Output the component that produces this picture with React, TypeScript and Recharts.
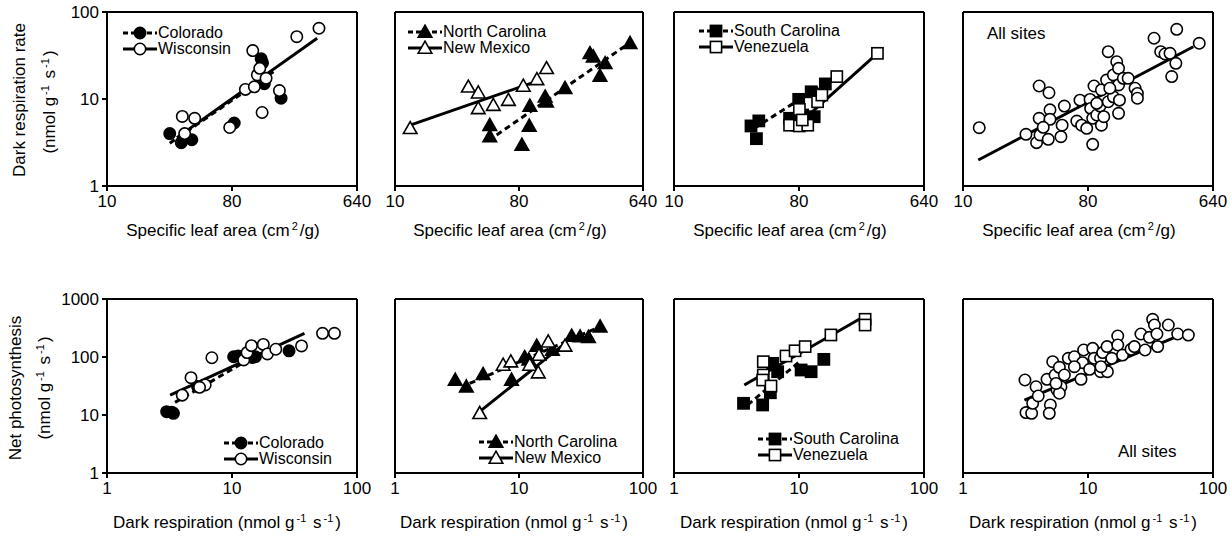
import React from 'react';
import { ScatterChart, Scatter, XAxis, YAxis, Legend } from 'recharts';

type Pt = [number, number];
type Mark = 'circle' | 'triangle' | 'square';

const FONT = '"Liberation Sans", Arial, Helvetica, sans-serif';

// axis ranges and ticks
const slaDomain: [number, number] = [10, 640];
const slaTicks = [10, 80, 640];
const rdDomain: [number, number] = [1, 100];
const rdTicks = [1, 10, 100];
const anDomain: [number, number] = [1, 1000];
const anTicks = [1, 10, 100, 1000];

// top row: specific leaf area (x) vs dark respiration (y)
const coloradoSla: Pt[] = [[28.4, 4.0], [34.4, 3.15], [41, 3.4], [83, 5.3], [130, 29], [133, 26], [137, 15], [181, 10.2]];
const wisconsinSla: Pt[] = [[35, 6.3], [43, 6.0], [36.4, 4.0], [77, 4.7], [100, 12.9], [113, 36], [116, 13.8], [122, 18.9], [127, 22.5], [141, 17.3], [132, 7.0], [176, 12.5], [235, 52], [340, 65]];
const coloradoSlaFit: Pt[] = [[28.4, 3.1], [166, 21.5]];
const wisconsinSlaFit: Pt[] = [[32, 3.6], [330, 50]];

const carolinaNSla: Pt[] = [[49, 5.0], [49, 3.7], [84, 2.96], [95, 4.9], [96, 8.3], [124, 10.6], [127, 9.3], [173, 13.3], [263, 33.5], [278, 30.6], [339, 25.7], [311, 18.4], [515, 43.7]];
const mexicoSla: Pt[] = [[12.9, 4.6], [34.2, 13.8], [40.4, 11.8], [40.4, 7.8], [52, 8.5], [67, 9.7], [86, 14.1], [108, 16.8], [127, 22.5]];
const carolinaNSlaFit: Pt[] = [[55, 3.86], [487, 41.8]];
const mexicoSlaFit: Pt[] = [[12.9, 5.0], [114, 16.5]];

const carolinaSSla: Pt[] = [[36, 4.9], [41, 5.6], [39.4, 3.5], [68.4, 6.0], [79.6, 9.9], [98, 12.1], [124, 14.9], [85, 6.55], [103, 6.26]];
const venezuelaSla: Pt[] = [[68.4, 5.0], [80.5, 4.9], [92.5, 5.0], [80.5, 7.6], [84.5, 5.74], [109, 9.3], [117, 11.1], [150, 18.1], [295, 33.5]];
const carolinaSSlaFit: Pt[] = [[38, 4.6], [130, 16]];
const venezuelaSlaFit: Pt[] = [[70, 4.3], [295, 33.5]];

const allSla: Pt[] = [
  [13.1, 4.68], [28.5, 3.93], [34, 3.15], [36, 3.86], [35.5, 14.1], [41.8, 11.8], [42.5, 7.5], [35.5, 6.0],
  [42.5, 5.84], [38, 4.73], [41.3, 3.44], [51, 3.69], [52, 5.0], [54, 8.3], [66.4, 5.58], [70, 9.7],
  [72, 5.0], [78.3, 4.6], [82.8, 9.9], [83.6, 7.8], [86.5, 3.01], [88.4, 14.1], [86.5, 6.0], [92.5, 6.55],
  [100, 12.7], [97.8, 8.3], [100, 5.0], [104, 6.26], [109, 16.5], [112, 35], [112, 9.3], [122, 18.9],
  [122, 10.6], [129, 26.8], [133, 22.5], [133, 14.5], [135, 9.7], [133, 6.85], [144, 17.3], [156, 17.3],
  [175, 13.3], [182, 11.6], [182, 10.2], [240, 49.9], [268, 35], [288, 32.9], [313, 33.5], [350, 63.2],
  [345, 25.7], [322, 18.1], [509, 43.7], [115, 13.3], [92.5, 8.9],
];
const allSlaFit: Pt[] = [[12.9, 1.99], [461, 39.9]];

// bottom row: dark respiration (x) vs net photosynthesis (y)
const coloradoRd: Pt[] = [[3.0, 11.4], [3.4, 10.7], [3.3, 11.2], [5.3, 31], [10.3, 101], [11.2, 104], [14.5, 98], [15.4, 101], [28.6, 128]];
const wisconsinRd: Pt[] = [[4.0, 22], [4.7, 44], [6.1, 33], [5.5, 30], [6.9, 97], [12.4, 89], [13.2, 119], [14.3, 157], [17.8, 165], [19.2, 113], [22.4, 136], [36, 155], [53, 256], [66, 256]];
const coloradoRdFit: Pt[] = [[3.5, 16.5], [16, 110]];
const wisconsinRdFit: Pt[] = [[3.2, 22], [38, 256]];

const carolinaNRd: Pt[] = [[3.06, 40.1], [3.76, 30.7], [5.13, 50.3], [8.7, 40.1], [11.1, 98.8], [12, 90], [13.9, 155], [18.6, 132], [26.6, 230], [31.1, 225], [36.3, 220], [45.1, 333]];
const mexicoRd: Pt[] = [[4.82, 10.7], [7.45, 72.8], [8.59, 83], [12.2, 72.8], [14.3, 53.6], [14.5, 108], [17.2, 183], [23.5, 155]];
const carolinaNRdFit: Pt[] = [[4, 35], [45, 333]];
const mexicoRdFit: Pt[] = [[4.82, 11.4], [23.5, 172]];

const carolinaSRd: Pt[] = [[3.6, 15.9], [5.12, 14.9], [5.9, 24.2], [6.75, 55.8], [6.15, 77.7], [10.4, 59.7], [12.5, 55.8], [15.8, 91]];
const venezuelaRd: Pt[] = [[5.18, 83], [5.18, 48.9], [5.12, 40.1], [5.97, 31.6], [7.87, 104], [9.3, 128], [11.2, 151], [18.0, 240], [33.8, 447], [33.8, 356]];
const carolinaSRdFit: Pt[] = [[3.88, 14.9], [10.1, 83]];
const venezuelaRdFit: Pt[] = [[3.65, 32.9], [31.3, 465]];

const allRd: Pt[] = [
  [3.13, 40.1], [3.19, 11.0], [3.54, 10.7], [3.61, 15.9], [3.84, 30.7], [4.0, 21.3], [4.7, 41.2], [5.0, 14.9],
  [4.9, 10.7], [5.22, 83], [5.45, 48.9], [5.65, 27], [5.9, 66.4], [6.08, 30.7], [6.47, 48.9], [5.9, 23.7],
  [6.96, 95], [7.78, 101], [8.79, 41.2], [9.23, 132], [9.05, 79.8], [10.3, 61.4], [10.9, 141], [11.2, 95],
  [12.6, 95], [12.6, 55.8], [13.1, 119], [14.2, 151], [14.3, 55.8], [15.5, 95], [17.3, 230], [17.3, 161],
  [18.9, 108], [22.1, 136], [23.5, 151], [26.5, 249], [28.6, 132], [31, 218], [32.9, 447], [34, 356],
  [35.6, 249], [36.1, 151], [43.9, 356], [52.2, 249], [63.5, 239], [12.7, 68], [7.78, 68], [5.55, 35],
];
const allRdFit: Pt[] = [[3.1, 18.1], [59, 256]];

type Series = { data: Pt[]; mark: Mark; filled: boolean };
type Fit = { data: Pt[]; dashed: boolean };
type Key = { name: string; mark: Mark; filled: boolean; dashed: boolean };

const toRows = (pts: Pt[]) => pts.map(([x, y]) => ({ x, y }));

const drawMark = (mark: Mark, filled: boolean, cx: number, cy: number) => {
  const fill = filled ? '#000' : '#fff';
  if (mark === 'circle') return <circle cx={cx} cy={cy} r={5.7} fill={fill} stroke="#000" strokeWidth={1.6} />;
  if (mark === 'square') return <rect x={cx - 5.6} y={cy - 5.6} width={11.2} height={11.2} fill={fill} stroke="#000" strokeWidth={1.6} />;
  return <path d={`M${cx},${cy - 6.8}L${cx + 6.8},${cy + 5.2}L${cx - 6.8},${cy + 5.2}Z`} fill={fill} stroke="#000" strokeWidth={1.6} />;
};

const KeyBox = ({ keys, note }: { keys: Key[]; note?: string }) => (
  <div style={{ fontFamily: FONT, fontSize: 16, color: '#000', whiteSpace: 'nowrap' }}>
    {note && <div style={{ lineHeight: '18px', fontSize: 17 }}>{note}</div>}
    {keys.map((k) => (
      <div key={k.name} style={{ display: 'flex', alignItems: 'center', height: 16 }}>
        <svg width={36} height={16} style={{ display: 'block' }}>
          <line x1={1} x2={35} y1={8} y2={8} stroke="#000" strokeWidth={3} strokeDasharray={k.dashed ? '5 3' : undefined} />
          {drawMark(k.mark, k.filled, 18, 8)}
        </svg>
        <span style={{ lineHeight: '16px' }}>{k.name}</span>
      </div>
    ))}
  </div>
);

const L = 62;
const R = 26;
const T = 8;
const B = 34;
const tickStyle = { fill: '#000', fontSize: 17, fontFamily: FONT };
const ink = { stroke: '#000', strokeWidth: 2 };

type PanelProps = {
  left: number; top: number; w: number; h: number;
  xDomain: [number, number]; xTicks: number[];
  yDomain: [number, number]; yTicks: number[]; yLabels: boolean;
  series: Series[]; fits: Fit[]; keys: Key[]; keyAt: [number, number]; note?: string;
};

const Panel = (p: PanelProps) => {
  const cl = p.left - L;
  const ct = p.top - T;
  return (
    <div style={{ position: 'absolute', left: cl, top: ct }}>
      <ScatterChart width={p.w + L + R} height={p.h + T + B} margin={{ top: 0, right: 0, bottom: 0, left: 0 }}>
        <XAxis xAxisId="b" dataKey="x" type="number" scale="log" domain={p.xDomain} ticks={p.xTicks} interval={0}
          allowDataOverflow height={B} tickSize={5} tickMargin={4} axisLine={ink} tickLine={ink} tick={tickStyle} />
        <XAxis xAxisId="t" orientation="top" type="number" scale="log" domain={p.xDomain} ticks={p.xTicks} interval={0}
          allowDataOverflow height={T} tickSize={5} axisLine={ink} tickLine={ink} tick={false} />
        <YAxis yAxisId="l" dataKey="y" type="number" scale="log" domain={p.yDomain} ticks={p.yTicks} interval={0}
          allowDataOverflow width={L} tickSize={5} tickMargin={3} axisLine={ink} tickLine={ink} tick={p.yLabels ? tickStyle : false} />
        <YAxis yAxisId="r" orientation="right" type="number" scale="log" domain={p.yDomain} ticks={p.yTicks} interval={0}
          allowDataOverflow width={R} tickSize={5} axisLine={ink} tickLine={ink} tick={false} />
        {p.fits.map((f, i) => (
          <Scatter key={`f${i}`} xAxisId="b" yAxisId="l" data={toRows(f.data)} isAnimationActive={false}
            line={{ stroke: '#000', strokeWidth: 3, strokeDasharray: f.dashed ? '6 4' : undefined }}
            shape={() => <g />} />
        ))}
        {p.series.map((s, i) => (
          <Scatter key={`s${i}`} xAxisId="b" yAxisId="l" data={toRows(s.data)} isAnimationActive={false}
            shape={(sp: any) => drawMark(s.mark, s.filled, sp.cx, sp.cy)} />
        ))}
        <Legend layout="vertical" align="center" verticalAlign="middle"
          wrapperStyle={{ left: p.keyAt[0] - cl, top: p.keyAt[1] - ct, width: 'auto', height: 'auto' }}
          content={() => <KeyBox keys={p.keys} note={p.note} />} />
      </ScatterChart>
    </div>
  );
};

const Sup = ({ children }: { children: React.ReactNode }) => (
  <sup style={{ fontSize: 11, lineHeight: 0, verticalAlign: '0.55em', marginLeft: 2, marginRight: 2 }}>{children}</sup>
);

const XTitle = ({ cx, cy, children }: { cx: number; cy: number; children: React.ReactNode }) => (
  <div style={{ position: 'absolute', left: cx - 160, top: cy - 10, width: 320, height: 20, lineHeight: '20px', textAlign: 'center', fontFamily: FONT, fontSize: 17, color: '#000', whiteSpace: 'nowrap' }}>
    {children}
  </div>
);

const YTitle = ({ cx, cy, children }: { cx: number; cy: number; children: React.ReactNode }) => (
  <div style={{ position: 'absolute', left: cx - 110, top: cy - 10, width: 220, height: 20, lineHeight: '20px', textAlign: 'center', fontFamily: FONT, fontSize: 17, color: '#000', whiteSpace: 'nowrap', transform: 'rotate(-90deg)' }}>
    {children}
  </div>
);

const lefts = [107, 395, 674, 963];
const widths = [250, 248, 250, 250];
const topRow = 12;
const bottomRow = 299;
const plotH = 174;

export default function App() {
  const slaTitle = <>Specific leaf area (cm<Sup>2</Sup>/g)</>;
  const rdTitle = <>Dark respiration (nmol g<Sup>-1</Sup> s<Sup>-1</Sup>)</>;
  const common = { h: plotH };
  return (
    <div style={{ position: 'absolute', left: 0, top: 0, width: 1232, height: 540, background: '#fff', overflow: 'hidden' }}>
      {/* top row */}
      <Panel {...common} left={lefts[0]} top={topRow} w={widths[0]} xDomain={slaDomain} xTicks={slaTicks} yDomain={rdDomain} yTicks={rdTicks} yLabels
        fits={[{ data: coloradoSlaFit, dashed: true }, { data: wisconsinSlaFit, dashed: false }]}
        series={[{ data: coloradoSla, mark: 'circle', filled: true }, { data: wisconsinSla, mark: 'circle', filled: false }]}
        keys={[{ name: 'Colorado', mark: 'circle', filled: true, dashed: true }, { name: 'Wisconsin', mark: 'circle', filled: false, dashed: false }]}
        keyAt={[122, 25]} />
      <Panel {...common} left={lefts[1]} top={topRow} w={widths[1]} xDomain={slaDomain} xTicks={slaTicks} yDomain={rdDomain} yTicks={rdTicks} yLabels={false}
        fits={[{ data: carolinaNSlaFit, dashed: true }, { data: mexicoSlaFit, dashed: false }]}
        series={[{ data: carolinaNSla, mark: 'triangle', filled: true }, { data: mexicoSla, mark: 'triangle', filled: false }]}
        keys={[{ name: 'North Carolina', mark: 'triangle', filled: true, dashed: true }, { name: 'New Mexico', mark: 'triangle', filled: false, dashed: false }]}
        keyAt={[407, 24]} />
      <Panel {...common} left={lefts[2]} top={topRow} w={widths[2]} xDomain={slaDomain} xTicks={slaTicks} yDomain={rdDomain} yTicks={rdTicks} yLabels={false}
        fits={[{ data: carolinaSSlaFit, dashed: true }, { data: venezuelaSlaFit, dashed: false }]}
        series={[{ data: carolinaSSla, mark: 'square', filled: true }, { data: venezuelaSla, mark: 'square', filled: false }]}
        keys={[{ name: 'South Carolina', mark: 'square', filled: true, dashed: true }, { name: 'Venezuela', mark: 'square', filled: false, dashed: false }]}
        keyAt={[698, 23]} />
      <Panel {...common} left={lefts[3]} top={topRow} w={widths[3]} xDomain={slaDomain} xTicks={slaTicks} yDomain={rdDomain} yTicks={rdTicks} yLabels={false}
        fits={[{ data: allSlaFit, dashed: false }]}
        series={[{ data: allSla, mark: 'circle', filled: false }]}
        keys={[]} note="All sites" keyAt={[987, 25]} />

      {/* bottom row */}
      <Panel {...common} left={lefts[0]} top={bottomRow} w={widths[0]} xDomain={rdDomain} xTicks={rdTicks} yDomain={anDomain} yTicks={anTicks} yLabels
        fits={[{ data: coloradoRdFit, dashed: true }, { data: wisconsinRdFit, dashed: false }]}
        series={[{ data: coloradoRd, mark: 'circle', filled: true }, { data: wisconsinRd, mark: 'circle', filled: false }]}
        keys={[{ name: 'Colorado', mark: 'circle', filled: true, dashed: true }, { name: 'Wisconsin', mark: 'circle', filled: false, dashed: false }]}
        keyAt={[223, 435]} />
      <Panel {...common} left={lefts[1]} top={bottomRow} w={widths[1]} xDomain={rdDomain} xTicks={rdTicks} yDomain={anDomain} yTicks={anTicks} yLabels={false}
        fits={[{ data: carolinaNRdFit, dashed: true }, { data: mexicoRdFit, dashed: false }]}
        series={[{ data: carolinaNRd, mark: 'triangle', filled: true }, { data: mexicoRd, mark: 'triangle', filled: false }]}
        keys={[{ name: 'North Carolina', mark: 'triangle', filled: true, dashed: true }, { name: 'New Mexico', mark: 'triangle', filled: false, dashed: false }]}
        keyAt={[478, 434]} />
      <Panel {...common} left={lefts[2]} top={bottomRow} w={widths[2]} xDomain={rdDomain} xTicks={rdTicks} yDomain={anDomain} yTicks={anTicks} yLabels={false}
        fits={[{ data: carolinaSRdFit, dashed: true }, { data: venezuelaRdFit, dashed: false }]}
        series={[{ data: carolinaSRd, mark: 'square', filled: true }, { data: venezuelaRd, mark: 'square', filled: false }]}
        keys={[{ name: 'South Carolina', mark: 'square', filled: true, dashed: true }, { name: 'Venezuela', mark: 'square', filled: false, dashed: false }]}
        keyAt={[757, 431]} />
      <Panel {...common} left={lefts[3]} top={bottomRow} w={widths[3]} xDomain={rdDomain} xTicks={rdTicks} yDomain={anDomain} yTicks={anTicks} yLabels={false}
        fits={[{ data: allRdFit, dashed: false }]}
        series={[{ data: allRd, mark: 'circle', filled: false }]}
        keys={[]} note="All sites" keyAt={[1118, 443]} />

      {/* axis titles */}
      <YTitle cx={20} cy={100}>Dark respiration rate</YTitle>
      <YTitle cx={50} cy={102}>(nmol g<Sup>-1</Sup> s<Sup>-1</Sup>)</YTitle>
      <YTitle cx={16} cy={388}>Net photosynthesis</YTitle>
      <YTitle cx={45} cy={388}>(nmol g<Sup>-1</Sup> s<Sup>-1</Sup>)</YTitle>
      {lefts.map((l, i) => (
        <XTitle key={`xt${i}`} cx={l + widths[i] / 2 - 9} cy={231}>{slaTitle}</XTitle>
      ))}
      {lefts.map((l, i) => (
        <XTitle key={`xb${i}`} cx={l + widths[i] / 2 - 5} cy={523}>{rdTitle}</XTitle>
      ))}
    </div>
  );
}
